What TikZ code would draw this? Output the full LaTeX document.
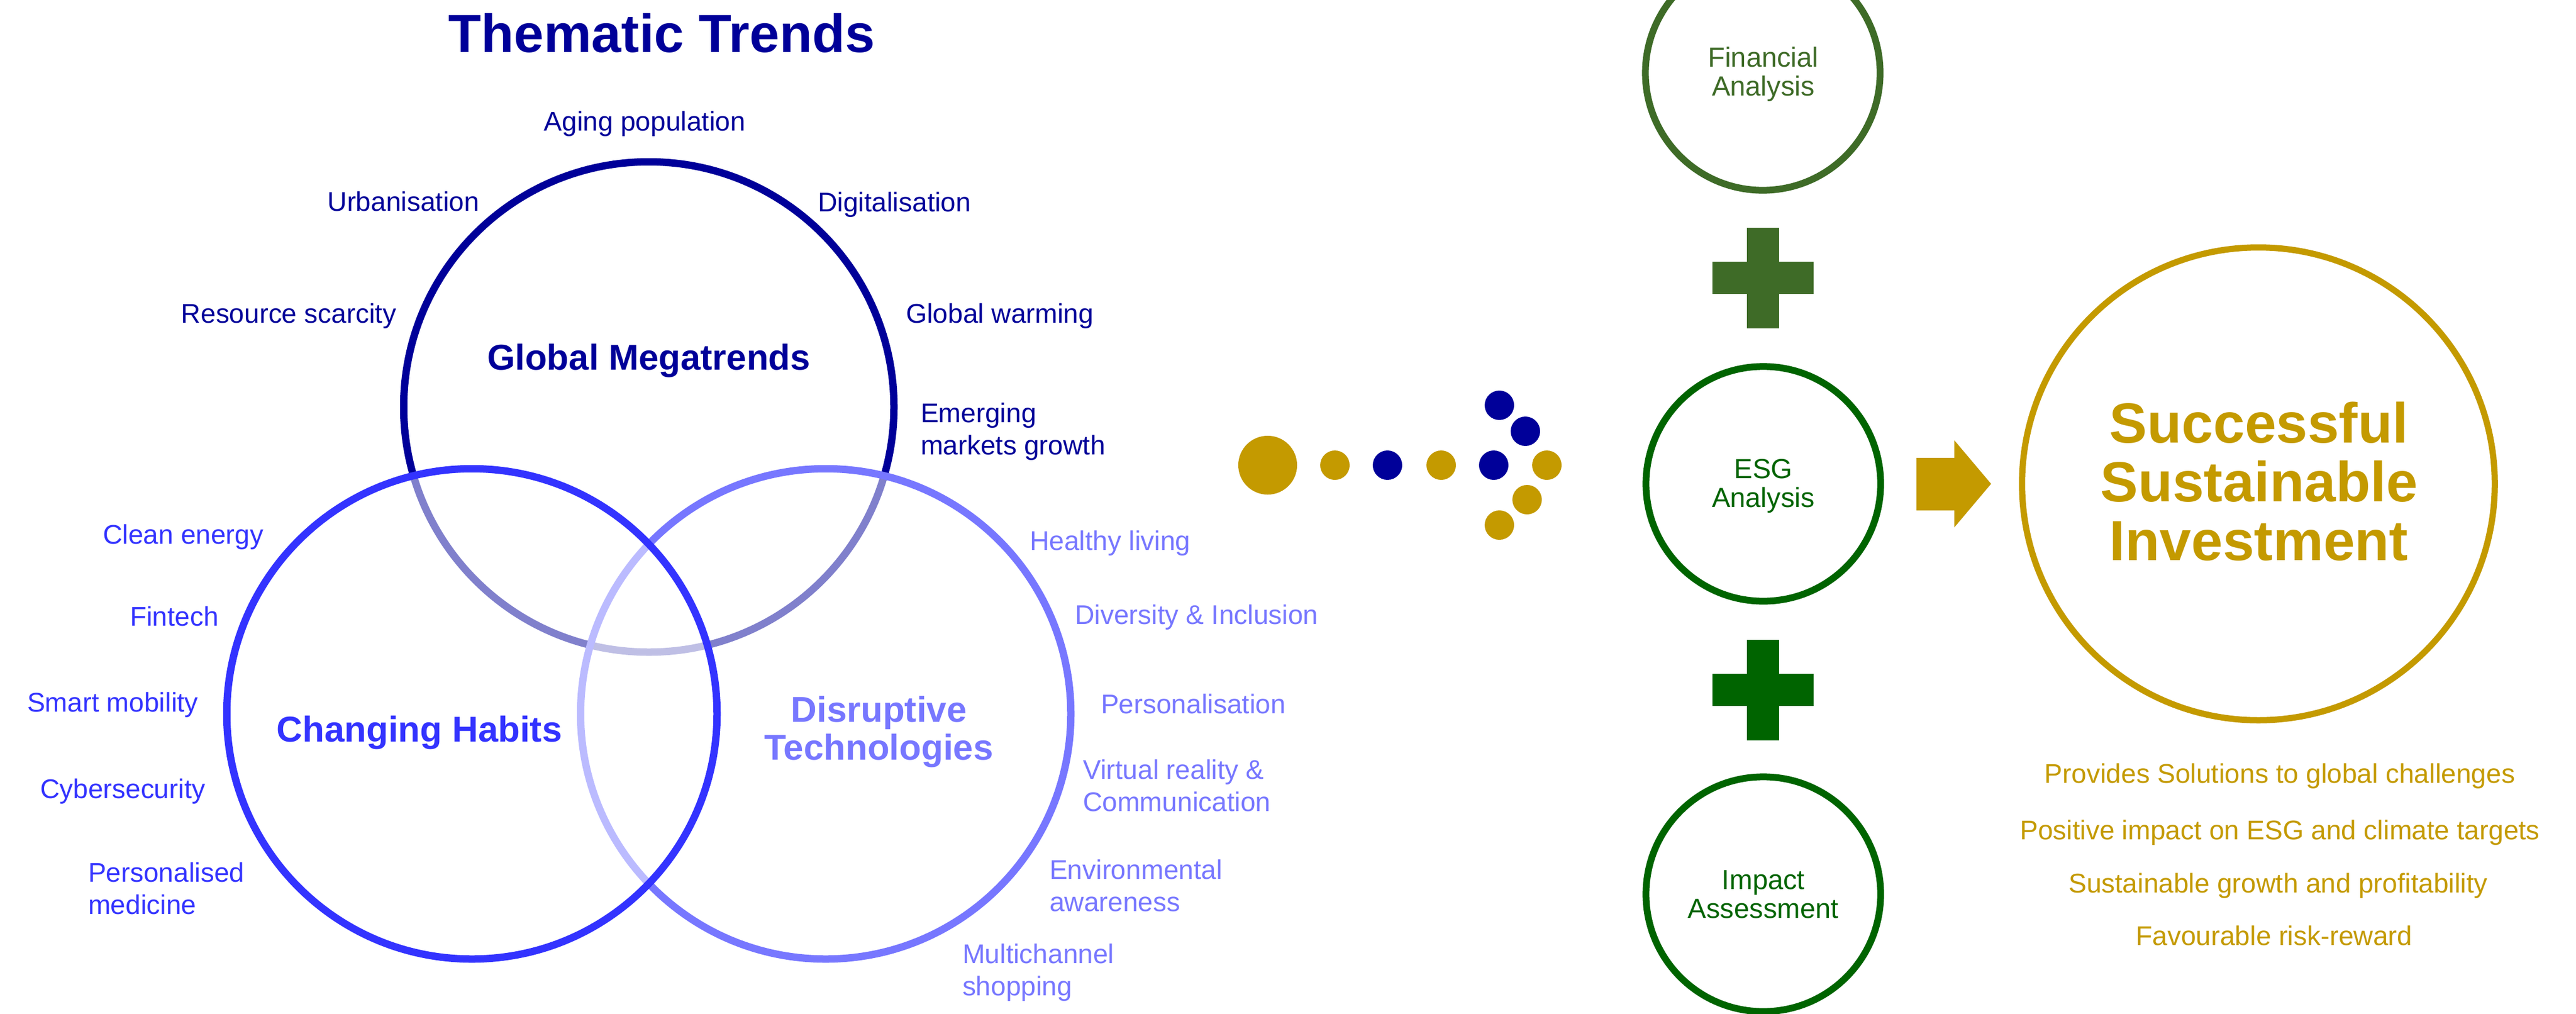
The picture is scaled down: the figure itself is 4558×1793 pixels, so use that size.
\documentclass[tikz,border=0pt]{standalone}
\usepackage{fontspec}
\setmainfont{Liberation Sans}
\definecolor{navy}{RGB}{0,0,153}
\definecolor{chb}{RGB}{51,51,255}
\definecolor{dtb}{RGB}{119,119,255}
\definecolor{goldc}{RGB}{196,154,0}
\definecolor{olivec}{RGB}{62,107,39}
\definecolor{dgreen}{RGB}{0,100,0}
\newcommand{\mlines}[2]{\begin{tabular}[t]{@{}#1@{}}#2\end{tabular}}
\tikzset{
  lbl/.style={inner sep=0pt, outer sep=0pt, font=\fontsize{13.6pt}{16.4pt}\selectfont},
  bold/.style={inner sep=0pt, outer sep=0pt, font=\fontsize{18.07pt}{19.06pt}\selectfont\bfseries},
  venn/.style={circle, draw=#1, line width=0.13cm, minimum size=8.67cm, inner sep=0pt},
  ring/.style={circle, draw=#1, line width=0.12cm, minimum size=4.15cm, inner sep=0pt},
  ringtxt/.style={inner sep=0pt, outer sep=0pt, font=\fontsize{13.9pt}{14.5pt}\selectfont},
  sdot/.style={circle, fill=#1, inner sep=0pt, minimum size=0.52cm},
}
\begin{document}
\begin{tikzpicture}[x=0.01cm, y=-0.01cm]
\clip (0,0) rectangle (4558,1793);
\fill[white] (0,0) rectangle (4558,1793);

% ---------- Venn ----------
\node[venn=navy] (gm) at (1148,720) {};
\node[venn=dtb, fill=white, fill opacity=0.5] (dt) at (1461,1263) {};
\node[venn=chb, fill=white, fill opacity=0.5] (ch) at (835,1263) {};

\node[anchor=base, inner sep=0pt, text=navy, font=\fontsize{27pt}{30pt}\selectfont\bfseries] (title) at (1171,92) {Thematic Trends};

\node[bold, text=navy, anchor=base] (gmt) at (1148,654) {Global Megatrends};
\node[bold, text=chb, anchor=base] (cht) at (742,1312) {Changing Habits};
\node[bold, text=dtb, anchor=base] (dtt) at (1555,1277) {\mlines{c}{Disruptive\\Technologies}};

% top labels
\node[lbl, text=navy, anchor=base] (l1) at (1141,231) {Aging population};
\node[lbl, text=navy, anchor=base east] (l2) at (848,373) {Urbanisation};
\node[lbl, text=navy, anchor=base west] (l3) at (1447,374) {Digitalisation};
\node[lbl, text=navy, anchor=base east] (l4) at (701,571) {Resource scarcity};
\node[lbl, text=navy, anchor=base west] (l5) at (1603,571) {Global warming};
\node[lbl, text=navy, anchor=base west] (l6) at (1629,747) {\mlines{l}{Emerging\\markets growth}};

% left labels
\node[lbl, text=chb, anchor=base west] (c1) at (182,962) {Clean energy};
\node[lbl, text=chb, anchor=base west] (c2) at (230,1107) {Fintech};
\node[lbl, text=chb, anchor=base west] (c3) at (48,1259) {Smart mobility};
\node[lbl, text=chb, anchor=base west] (c4) at (71,1412) {Cybersecurity};
\node[lbl, text=chb, anchor=base west] (c5) at (156,1560) {\mlines{l}{Personalised\\medicine}};

% right labels
\node[lbl, text=dtb, anchor=base west] (d1) at (1822,973) {Healthy living};
\node[lbl, text=dtb, anchor=base west] (d2) at (1902,1104) {Diversity \& Inclusion};
\node[lbl, text=dtb, anchor=base west] (d3) at (1948,1262) {Personalisation};
\node[lbl, text=dtb, anchor=base west] (d4) at (1916,1378) {\mlines{l}{Virtual reality \&\\Communication}};
\node[lbl, text=dtb, anchor=base west] (d5) at (1857,1555) {\mlines{l}{Environmental\\awareness}};
\node[lbl, text=dtb, anchor=base west] (d6) at (1703,1704) {\mlines{l}{Multichannel\\shopping}};

% ---------- dots ----------
\node[circle, fill=goldc, inner sep=0pt, minimum size=1.04cm] (b0) at (2243,823) {};
\node[sdot=goldc] (b1) at (2362,823) {};
\node[sdot=navy]  (b2) at (2455,823) {};
\node[sdot=goldc] (b3) at (2550,823) {};
\node[sdot=navy]  (b4) at (2643,823) {};
\node[sdot=goldc] (b5) at (2737,823) {};
\node[sdot=navy]  (b6) at (2653,717) {};
\node[sdot=navy]  (b7) at (2699,763) {};
\node[sdot=goldc] (b8) at (2702,884) {};
\node[sdot=goldc] (b9) at (2653,929) {};

% ---------- right column ----------
\node[ring=olivec] (fa) at (3119,129) {};
\node[ringtxt, text=olivec, anchor=base] (fat) at (3120,118) {\mlines{c}{Financial\\Analysis}};

\fill[olivec] (3030,463) rectangle (3209,520);
\fill[olivec] (3091,403) rectangle (3148,581);

\node[ring=dgreen] (esg) at (3120,856) {};
\node[ringtxt, text=dgreen, anchor=base] (esgt) at (3120,846) {\mlines{c}{ESG\\Analysis}};

\fill[dgreen] (3030,1192) rectangle (3209,1249);
\fill[dgreen] (3091,1132) rectangle (3148,1310);

\node[ring=dgreen] (ia) at (3120,1582) {};
\node[ringtxt, text=dgreen, anchor=base] (iat) at (3120,1573) {\mlines{c}{Impact\\Assessment}};

% block arrow
\fill[goldc] (3391,810) -- (3458,810) -- (3458,779) -- (3523,856) -- (3458,933) -- (3458,903) -- (3391,903) -- cycle;

% big circle
\node[circle, draw=goldc, line width=0.11cm, minimum size=8.36cm, inner sep=0pt] (ssi) at (3996,856) {};
\node[inner sep=0pt, text=goldc, anchor=base, font=\fontsize{28.45pt}{29.7pt}\selectfont\bfseries] (ssit) at (3997,783) {\mlines{c}{Successful\\Sustainable\\Investment}};

\node[lbl, text=goldc, anchor=base] (g1) at (4034,1385) {Provides Solutions to global challenges};
\node[lbl, text=goldc, anchor=base] (g2) at (4034,1485) {Positive impact on ESG and climate targets};
\node[lbl, text=goldc, anchor=base] (g3) at (4031,1579) {Sustainable growth and profitability};
\node[lbl, text=goldc, anchor=base] (g4) at (4024,1672) {Favourable risk-reward};
\end{tikzpicture}
\end{document}
